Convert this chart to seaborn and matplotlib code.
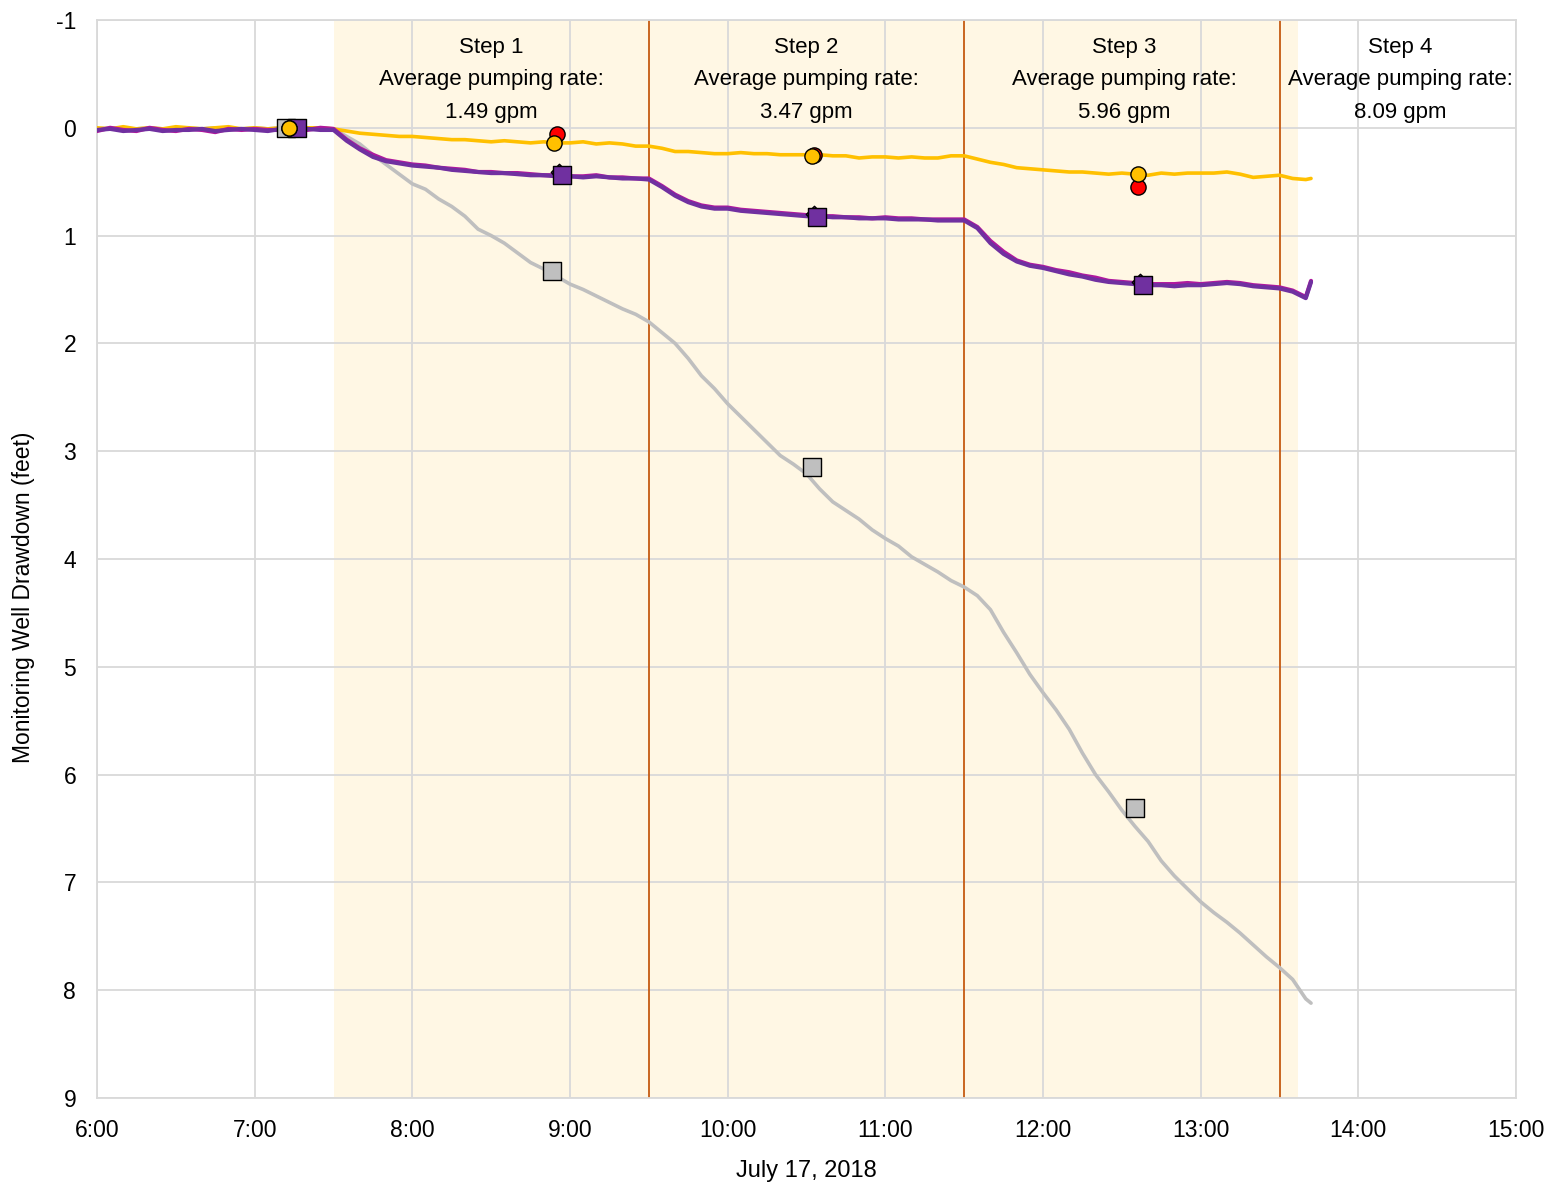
import numpy as np
import pandas as pd
import matplotlib
matplotlib.use("Agg")
import matplotlib.pyplot as plt
import matplotlib.dates as mdates
import seaborn as sns

sns.set_theme(style="white")
plt.rcParams['font.family'] = ['Liberation Sans', 'DejaVu Sans']
plt.rcParams['axes.unicode_minus'] = False
plt.rcParams['text.color'] = 'black'
plt.rcParams['axes.labelcolor'] = 'black'

# ---- data ----
times = pd.date_range('2018-07-17 06:00', '2018-07-17 13:40', freq='5min').append(
    pd.DatetimeIndex(['2018-07-17 13:42']))

gray_line = [
    0.01, 0.0, 0.02, 0.01, 0.0, 0.01, 0.02, 0.0, 0.01, 0.0, 0.02, 0.01,   # 6:00-6:55
    0.0, 0.01, 0.0, 0.01, 0.0, 0.01,                                       # 7:00-7:25
    0.01, 0.08, 0.15, 0.25, 0.34, 0.43,                                    # 7:30-7:55
    0.52, 0.57, 0.66, 0.73, 0.82, 0.94, 1.00, 1.07, 1.16, 1.25, 1.31, 1.38,  # 8
    1.45, 1.50, 1.56, 1.62, 1.68, 1.73, 1.80, 1.90, 2.00, 2.14, 2.30, 2.42,  # 9
    2.56, 2.68, 2.80, 2.92, 3.04, 3.12, 3.21, 3.35, 3.47, 3.55, 3.63, 3.73,  # 10
    3.81, 3.88, 3.98, 4.05, 4.12, 4.20, 4.26, 4.34, 4.47, 4.68, 4.87, 5.07,  # 11
    5.24, 5.40, 5.58, 5.80, 6.00, 6.16, 6.33, 6.48, 6.62, 6.80, 6.94, 7.06,  # 12
    7.18, 7.28, 7.37, 7.47, 7.58, 7.69, 7.79, 7.90, 8.08,                    # 13:00-13:40
    8.12]

purple_line = [
    0.02, 0.01, 0.03, 0.02, 0.01, 0.03, 0.02, 0.02, 0.01, 0.03, 0.02, 0.01,
    0.02, 0.03, 0.01, 0.02, 0.01, 0.02,
    0.02, 0.12, 0.20, 0.27, 0.31, 0.33,
    0.35, 0.36, 0.37, 0.39, 0.40, 0.41, 0.42, 0.42, 0.43, 0.44, 0.44, 0.45,
    0.45, 0.46, 0.45, 0.46, 0.47, 0.47, 0.48, 0.55, 0.63, 0.69, 0.73, 0.75,
    0.75, 0.77, 0.78, 0.79, 0.80, 0.81, 0.82, 0.82, 0.83, 0.83, 0.84, 0.84,
    0.84, 0.85, 0.85, 0.85, 0.86, 0.86, 0.86, 0.93, 1.07, 1.17, 1.24, 1.28,
    1.30, 1.33, 1.36, 1.38, 1.41, 1.43, 1.44, 1.45, 1.46, 1.46, 1.47, 1.46,
    1.46, 1.45, 1.44, 1.45, 1.47, 1.48, 1.49, 1.52, 1.58,
    1.43]

magenta_line = [
    0.03, 0.0, 0.02, 0.03, 0.0, 0.02, 0.03, 0.01, 0.02, 0.04, 0.01, 0.02,
    0.01, 0.02, 0.02, 0.01, 0.02, 0.0,
    0.01, 0.11, 0.19, 0.25, 0.30, 0.32,
    0.34, 0.35, 0.37, 0.38, 0.39, 0.41, 0.41, 0.42, 0.42, 0.43, 0.44, 0.44,
    0.45, 0.45, 0.44, 0.46, 0.46, 0.47, 0.47, 0.54, 0.62, 0.68, 0.72, 0.74,
    0.74, 0.76, 0.77, 0.78, 0.79, 0.80, 0.81, 0.82, 0.82, 0.83, 0.83, 0.84,
    0.83, 0.84, 0.84, 0.85, 0.85, 0.85, 0.85, 0.92, 1.05, 1.15, 1.23, 1.27,
    1.29, 1.32, 1.34, 1.37, 1.39, 1.42, 1.43, 1.44, 1.45, 1.45, 1.45, 1.44,
    1.45, 1.44, 1.43, 1.44, 1.46, 1.47, 1.48, 1.51, 1.57,
    1.42]

yellow_line = [
    0.0, 0.01, -0.01, 0.01, 0.0, 0.01, -0.01, 0.0, 0.01, 0.0, -0.01, 0.01,
    0.0, 0.01, 0.0, -0.01, 0.0, 0.0,
    0.01, 0.03, 0.05, 0.06, 0.07, 0.08,
    0.08, 0.09, 0.10, 0.11, 0.11, 0.12, 0.13, 0.12, 0.13, 0.14, 0.13, 0.14,
    0.14, 0.13, 0.15, 0.14, 0.15, 0.17, 0.17, 0.19, 0.22, 0.22, 0.23, 0.24,
    0.24, 0.23, 0.24, 0.24, 0.25, 0.25, 0.25, 0.25, 0.26, 0.26, 0.28, 0.27,
    0.27, 0.28, 0.27, 0.28, 0.28, 0.26, 0.26, 0.29, 0.32, 0.34, 0.37, 0.38,
    0.39, 0.40, 0.41, 0.41, 0.42, 0.43, 0.42, 0.43, 0.44, 0.42, 0.43, 0.42,
    0.42, 0.42, 0.41, 0.43, 0.46, 0.45, 0.44, 0.47, 0.48,
    0.47]

# manual measurements (markers)
gray_sq_t = ['07:12', '08:53', '10:32', '12:35']
gray_sq_v = [0.0, 1.33, 3.15, 6.31]
diamond_t = ['07:15', '08:56', '10:33', '12:37']
diamond_v = [0.0, 0.41, 0.80, 1.43]
purple_sq_t = ['07:16', '08:57', '10:34', '12:38']
purple_sq_v = [0.0, 0.44, 0.83, 1.46]
red_t = ['07:13', '08:55', '10:33', '12:36']
red_v = [0.0, 0.06, 0.25, 0.55]
yellow_c_t = ['07:13', '08:54', '10:32', '12:36']
yellow_c_v = [0.0, 0.14, 0.26, 0.43]

step_labels = ['Step 1\nAverage pumping rate:\n1.49 gpm',
               'Step 2\nAverage pumping rate:\n3.47 gpm',
               'Step 3\nAverage pumping rate:\n5.96 gpm',
               'Step 4\nAverage pumping rate:\n8.09 gpm']
step_label_t = ['08:30', '10:30', '12:31', '14:16']
step_bounds = ['09:30', '11:30', '13:30']
shade_span = ('07:30', '13:37')

def ts(s):
    return pd.Timestamp('2018-07-17 ' + s)

# ---- figure ----
fig = plt.figure(figsize=(15.49, 11.83), dpi=100)
ax = fig.add_axes([97/1549, 1-1098/1183, (1516-97)/1549, (1098-20)/1183])

ax.axvspan(ts(shade_span[0]), ts(shade_span[1]), color='#FFF7E4', zorder=0, lw=0)
for b in step_bounds:
    ax.axvline(ts(b), color='#C55A11', lw=1.3, zorder=1)

df = pd.DataFrame({'time': times, 'gray': gray_line, 'magenta': magenta_line,
                   'purple': purple_line, 'yellow': yellow_line})

sns.lineplot(data=df, x='time', y='gray', color='#BFBFBF', lw=2.6, ax=ax, zorder=3)
sns.lineplot(data=df, x='time', y='yellow', color='#FFC000', lw=2.6, ax=ax, zorder=3)
sns.lineplot(data=df, x='time', y='magenta', color='#B0189E', lw=3.0, ax=ax, zorder=3)
sns.lineplot(data=df, x='time', y='purple', color='#7030A0', lw=3.0, ax=ax, zorder=3)

def mk(tl, vl, marker, color, s, z):
    d = pd.DataFrame({'t': [ts(t) for t in tl], 'v': vl})
    sns.scatterplot(data=d, x='t', y='v', marker=marker, color=color, s=s,
                    edgecolor='black', linewidth=1.0, ax=ax, zorder=z)

mk(gray_sq_t, gray_sq_v, 's', '#BFBFBF', 150, 5)
mk(diamond_t, diamond_v, 'D', '#7030A0', 70, 5)
mk(purple_sq_t, purple_sq_v, 's', '#7030A0', 150, 6)
mk(red_t, red_v, 'o', '#FF0000', 120, 7)
mk(yellow_c_t, yellow_c_v, 'o', '#FFC000', 120, 8)

for lab, t in zip(step_labels, step_label_t):
    ax.text(ts(t), -0.845, lab, ha='center', va='top', fontsize=16,
            linespacing=1.72, zorder=4, color='black')

ax.set_xlim(ts('06:00'), ts('15:00'))
ax.set_ylim(9, -1)
ax.set_yticks(range(-1, 10))
ax.xaxis.set_major_locator(mdates.HourLocator(interval=1))
ax.xaxis.set_major_formatter(mdates.DateFormatter('%-H:%M'))
ax.grid(True, color='#D9D9D9', lw=1.3, zorder=1)
ax.set_axisbelow(True)
for sp in ax.spines.values():
    sp.set_color('#D9D9D9')
    sp.set_linewidth(1.3)
ax.tick_params(axis='both', length=0, labelsize=16.5, colors='black')
ax.tick_params(axis='y', pad=15)
ax.tick_params(axis='x', pad=15)
ax.set_xlabel('July 17, 2018', fontsize=17, labelpad=13)
ax.set_ylabel('Monitoring Well Drawdown (feet)', fontsize=16.5)
ax.yaxis.set_label_coords(-0.0435, 0.464)

fig.savefig('out.png', dpi=100)
